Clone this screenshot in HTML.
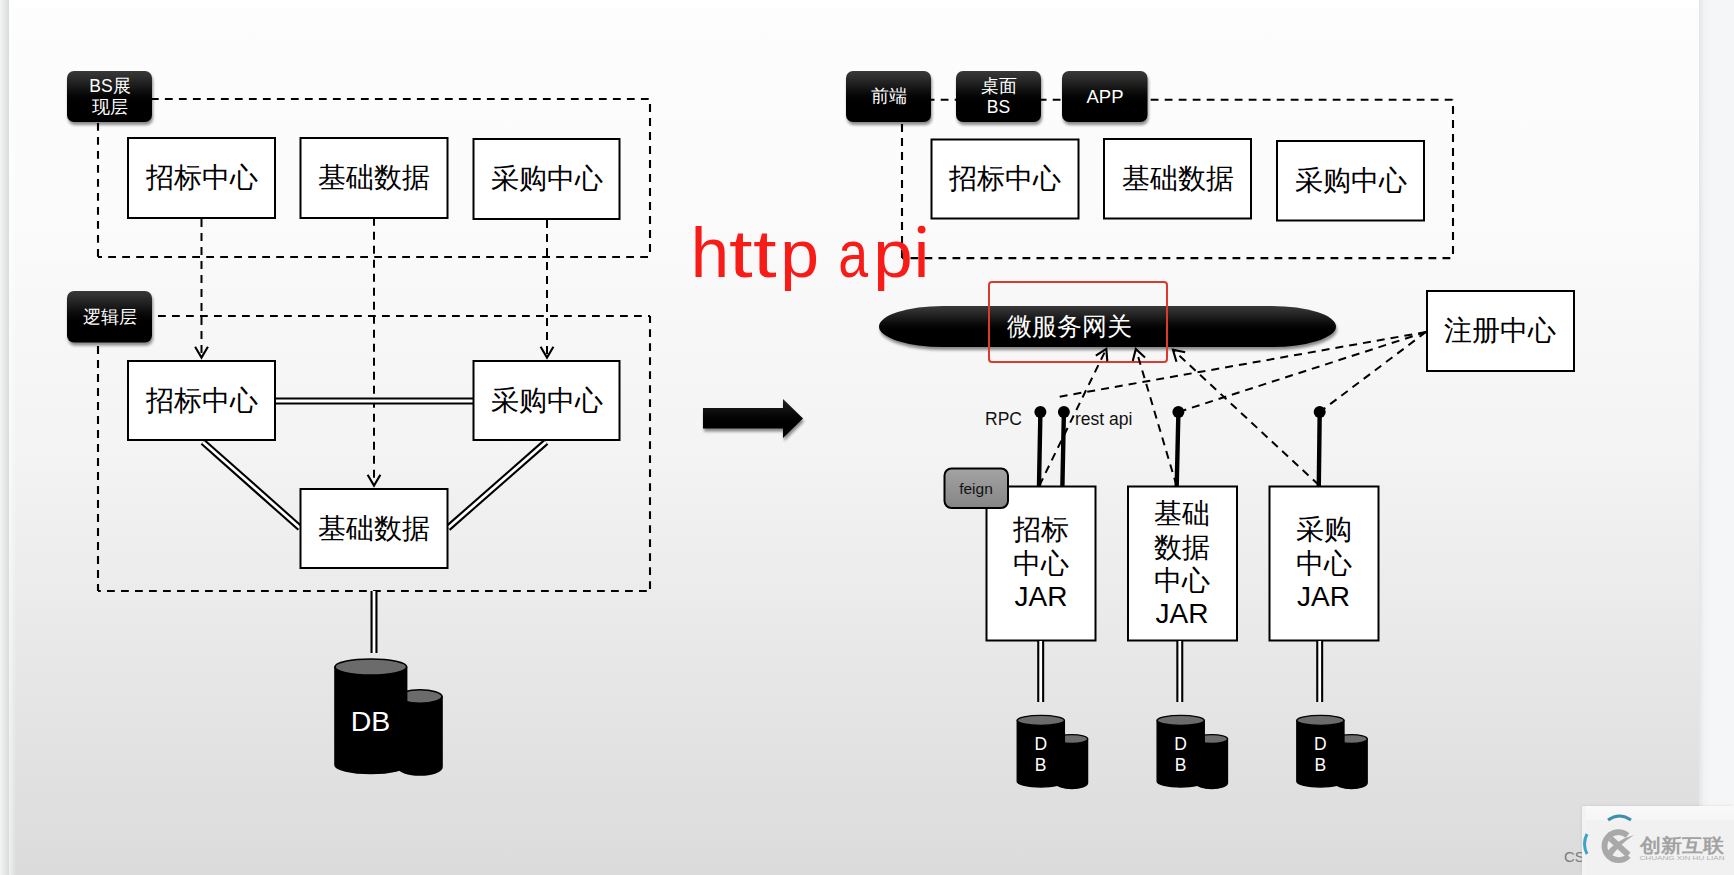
<!DOCTYPE html>
<html><head><meta charset="utf-8">
<style>
html,body{margin:0;padding:0;width:1734px;height:875px;overflow:hidden;background:#f4f5f7;}
#slide{position:absolute;left:9px;top:0;width:1690px;height:875px;
 background:linear-gradient(to bottom,#ffffff 0px,#ffffff 8px,#fdfdfd 8px,#fbfbfb 200px,#f8f8f8 300px,#f4f4f4 440px,#ebebeb 600px,#e5e5e5 700px,#dbdbdb 875px);}
#lstrip{position:absolute;left:0;top:0;width:9px;height:875px;background:linear-gradient(to right,#f3f4f4,#e2e3e3 70%,#dadbdb);}
#rstrip{position:absolute;left:1699px;top:0;width:35px;height:875px;background:linear-gradient(to right,#e4e5e7,#f1f2f4 5px,#f5f6f8 12px);}
svg{position:absolute;left:0;top:0;}
text{font-family:"Liberation Sans",sans-serif;}
</style></head><body>
<div id="lstrip"></div>
<div id="slide"></div>
<div style="position:absolute;left:9px;top:0;width:7px;height:875px;background:linear-gradient(to right,rgba(255,255,255,0.6),rgba(255,255,255,0));"></div>
<div id="rstrip"></div>
<svg width="1734" height="875" viewBox="0 0 1734 875">
<defs>
 <linearGradient id="lab" x1="0" y1="0" x2="0" y2="1">
  <stop offset="0" stop-color="#393939"/><stop offset="0.1" stop-color="#303030"/><stop offset="0.2" stop-color="#252525"/><stop offset="0.3" stop-color="#1a1a1a"/><stop offset="0.4" stop-color="#0e0e0e"/><stop offset="0.5" stop-color="#050505"/><stop offset="0.6" stop-color="#000"/><stop offset="1" stop-color="#000"/>
 </linearGradient>
 <filter id="sh" x="-20%" y="-20%" width="140%" height="160%" color-interpolation-filters="sRGB">
  <feGaussianBlur in="SourceAlpha" stdDeviation="1.6"/><feOffset dx="1" dy="2.5" result="o"/>
  <feComponentTransfer><feFuncA type="linear" slope="0.45"/></feComponentTransfer>
  <feMerge><feMergeNode/><feMergeNode in="SourceGraphic"/></feMerge>
 </filter>
 <marker id="arr" viewBox="0 0 16 18" refX="13" refY="9" markerWidth="16" markerHeight="18" markerUnits="userSpaceOnUse" orient="auto">
  <path d="M1.8,2.6 L12.6,9 L1.8,15.4" fill="none" stroke="#000" stroke-width="2.1"/>
 </marker>
</defs>

<!-- ============ LEFT ============ -->
<g fill="none" stroke="#000" stroke-width="2.1" stroke-dasharray="7.8 6.2">
 <line x1="98" y1="99" x2="650" y2="99" stroke-dashoffset="3.1"/>
 <line x1="650" y1="99" x2="650" y2="257" stroke-dashoffset="8.9"/>
 <line x1="98" y1="257" x2="650" y2="257" stroke-dashoffset="3.8"/>
 <line x1="98" y1="99" x2="98" y2="257" stroke-dashoffset="4"/>
 <line x1="98" y1="316" x2="650" y2="316" stroke-dashoffset="10"/>
 <line x1="650" y1="316" x2="650" y2="591" stroke-dashoffset="0.8"/>
 <line x1="98" y1="591" x2="650" y2="591" stroke-dashoffset="5"/>
 <line x1="98" y1="316" x2="98" y2="591" stroke-dashoffset="11.9"/>
 <line x1="902" y1="99.7" x2="1453" y2="99.7" stroke-dashoffset="3.3"/>
 <line x1="1453" y1="99.7" x2="1453" y2="258.1" stroke-dashoffset="7.6"/>
 <line x1="902" y1="258.1" x2="1453" y2="258.1" stroke-dashoffset="5.5"/>
 <line x1="902" y1="99.7" x2="902" y2="258.1" stroke-dashoffset="3.6"/>
</g>
<!-- dashed arrows -->
<g fill="none" stroke="#000" stroke-width="2" stroke-dasharray="8 6">
 <line x1="201.5" y1="219" x2="201.5" y2="358" marker-end="url(#arr)"/>
 <line x1="374" y1="219" x2="374" y2="486" stroke-dashoffset="1.2" marker-end="url(#arr)"/>
 <line x1="547" y1="220" x2="547" y2="358" marker-end="url(#arr)"/>
</g>
<!-- double lines -->
<g fill="none" stroke="#000" stroke-width="7">
 <line x1="275" y1="401" x2="473" y2="401"/>
 <line x1="203" y1="442" x2="300" y2="528"/>
 <line x1="546" y1="442" x2="448" y2="528"/>
 <line x1="374" y1="591" x2="374" y2="653"/>
</g>
<g fill="none" stroke="#fff" stroke-width="2.8">
 <line x1="275" y1="401" x2="473" y2="401"/>
 <line x1="203" y1="442" x2="300" y2="528"/>
 <line x1="546" y1="442" x2="448" y2="528"/>
 <line x1="374" y1="591" x2="374" y2="653"/>
</g>

<g fill="#fff" stroke="#000" stroke-width="2">
 <rect x="128" y="138" width="147" height="80"/>
 <rect x="300.5" y="138" width="147" height="80"/>
 <rect x="473.5" y="139" width="146" height="80"/>
 <rect x="128" y="361" width="147" height="79"/>
 <rect x="473.5" y="361" width="146" height="79"/>
 <rect x="300.5" y="489" width="147" height="79"/>
</g>
<g font-size="28" fill="#000" text-anchor="middle">
 <text x="201.5" y="187">招标中心</text>
 <text x="374" y="187">基础数据</text>
 <text x="547" y="188">采购中心</text>
 <text x="201.5" y="410">招标中心</text>
 <text x="547" y="410">采购中心</text>
 <text x="374" y="538">基础数据</text>
</g>

<!-- labels -->
<g filter="url(#sh)" fill="url(#lab)">
 <rect x="67" y="71" width="85" height="51" rx="7"/>
 <rect x="67" y="291" width="85" height="51.5" rx="7"/>
 <rect x="846" y="71" width="85" height="51" rx="7"/>
 <rect x="956" y="71" width="85" height="51" rx="7"/>
 <rect x="1062" y="71" width="85.5" height="51" rx="7"/>
</g>
<g font-size="17.5" fill="#fff" text-anchor="middle">
 <text x="110" y="92">BS展</text>
 <text x="110" y="113">现层</text>
 <text x="109.5" y="323">逻辑层</text>
 <text x="888.5" y="102">前端</text>
 <text x="998.5" y="92">桌面</text>
 <text x="998.5" y="113">BS</text>
 <text x="1105" y="103" font-size="18.5">APP</text>
</g>

<!-- DB big -->
<g stroke="#000" stroke-width="1.6">
 <path d="M398,696.5 L442,696.5 L442,767 A22,8 0 0 1 398,767 Z" fill="#000"/>
 <ellipse cx="420" cy="696.5" rx="22" ry="6.8" fill="#6b6b6b"/>
 <path d="M335,667 L406.6,667 L406.6,765 A35.8,8.5 0 0 1 335,765 Z" fill="#000"/>
 <ellipse cx="370.8" cy="667" rx="35.8" ry="8" fill="#6b6b6b"/>
</g>
<text x="370.5" y="730.5" font-size="28.5" fill="#fff" text-anchor="middle">DB</text>

<!-- ============ RIGHT ============ -->
<g fill="#fff" stroke="#000" stroke-width="2">
 <rect x="931.5" y="139.5" width="147" height="79"/>
 <rect x="1104" y="139" width="147" height="79.5"/>
 <rect x="1277" y="141" width="147" height="79.5"/>
 <rect x="1427" y="291" width="147" height="80"/>
 <rect x="986.5" y="486.5" width="109" height="154"/>
 <rect x="1128" y="486.5" width="109" height="154"/>
 <rect x="1269.5" y="486.5" width="109" height="154"/>
</g>
<g font-size="28" fill="#000" text-anchor="middle">
 <text x="1005" y="188">招标中心</text>
 <text x="1177.5" y="188">基础数据</text>
 <text x="1350.5" y="190">采购中心</text>
 <text x="1500" y="340">注册中心</text>
</g>
<g font-size="28" fill="#000" text-anchor="middle">
 <text x="1041" y="539">招标</text>
 <text x="1041" y="573">中心</text>
 <text x="1041" y="606">JAR</text>
 <text x="1182" y="523">基础</text>
 <text x="1182" y="557">数据</text>
 <text x="1182" y="590">中心</text>
 <text x="1182" y="623">JAR</text>
 <text x="1323.5" y="539">采购</text>
 <text x="1323.5" y="573">中心</text>
 <text x="1323.5" y="606">JAR</text>
</g>

<!-- http api -->
<g font-size="67" fill="#f81c18" text-anchor="middle">
 <text x="0" y="0" transform="translate(710,277) scale(1.03,1.06)">h</text>
 <text x="0" y="277" transform="translate(740.7,0) scale(1.27,1)">t</text>
 <text x="0" y="277" transform="translate(764.7,0) scale(1.27,1)">t</text>
 <text x="0" y="277" transform="translate(799.6,0) scale(1.04,1)">p</text>
 <text x="0" y="277" transform="translate(853.2,0) scale(0.8,1)">a</text>
 <text x="0" y="277" transform="translate(892.9,0) scale(1.06,1)">p</text>
 <text x="0" y="277" transform="translate(921.5,0) scale(1.05,1)">ı</text>
 <circle cx="921.6" cy="229.6" r="3.9"/>
</g>

<!-- gateway -->
<defs>
 <linearGradient id="gw" x1="0" y1="0" x2="0" y2="1">
  <stop offset="0" stop-color="#393939"/><stop offset="0.1" stop-color="#303030"/><stop offset="0.2" stop-color="#252525"/><stop offset="0.3" stop-color="#1a1a1a"/><stop offset="0.4" stop-color="#0e0e0e"/><stop offset="0.5" stop-color="#050505"/><stop offset="0.6" stop-color="#000"/><stop offset="1" stop-color="#000"/>
 </linearGradient>
</defs>
<rect x="879" y="306" width="457" height="41" rx="64" ry="20.5" fill="url(#gw)" filter="url(#sh)"/>
<text x="1069" y="335" font-size="25" fill="#fff" text-anchor="middle">微服务网关</text>
<rect x="989" y="282" width="178" height="80" rx="3" fill="none" stroke="#dc3a2e" stroke-width="2"/>

<!-- pins -->
<g stroke="#000" stroke-width="4.4" fill="none">
 <line x1="1040.4" y1="412" x2="1039" y2="486"/>
 <line x1="1063.9" y1="412" x2="1062.4" y2="486"/>
 <line x1="1178.4" y1="412" x2="1176.7" y2="486"/>
 <line x1="1319.7" y1="412" x2="1318.8" y2="486"/>
</g>
<g fill="#000">
 <circle cx="1040.4" cy="412" r="6"/>
 <circle cx="1063.9" cy="412" r="6"/>
 <circle cx="1178.4" cy="412" r="6"/>
 <circle cx="1319.7" cy="412" r="6"/>
</g>
<text x="985" y="425" font-size="17.5" fill="#111">RPC</text>
<text x="1075" y="425" font-size="17.5" fill="#111">rest api</text>

<!-- dashed -->
<g fill="none" stroke="#000" stroke-width="2" stroke-dasharray="8 6">
 <line x1="1426" y1="332" x2="1055" y2="397.5"/>
 <line x1="1426" y1="332" x2="1178.4" y2="412"/>
 <line x1="1426" y1="332" x2="1319.7" y2="412"/>
 <line x1="1039.4" y1="485.5" x2="1106.5" y2="348.5" marker-end="url(#arr)"/>
 <line x1="1176.5" y1="485.5" x2="1135.7" y2="348.5" marker-end="url(#arr)"/>
 <line x1="1318.8" y1="485" x2="1172.6" y2="349.4" marker-end="url(#arr)"/>
</g>

<!-- feign -->
<linearGradient id="fg" x1="0" y1="0" x2="0" y2="1"><stop offset="0" stop-color="#a3a3a3"/><stop offset="1" stop-color="#858585"/></linearGradient>
<rect x="944.5" y="468.5" width="63.5" height="39.5" rx="7" fill="url(#fg)" stroke="#000" stroke-width="2"/>
<text x="976" y="494" font-size="15.5" fill="#111" text-anchor="middle">feign</text>

<!-- JAR -> DB double lines -->
<g fill="none" stroke="#000" stroke-width="7">
 <line x1="1040.7" y1="641" x2="1040.7" y2="702"/>
 <line x1="1179.8" y1="641" x2="1179.8" y2="702"/>
 <line x1="1319.7" y1="641" x2="1319.7" y2="702"/>
</g>
<g fill="none" stroke="#fff" stroke-width="2.8">
 <line x1="1040.7" y1="641" x2="1040.7" y2="702"/>
 <line x1="1179.8" y1="641" x2="1179.8" y2="702"/>
 <line x1="1319.7" y1="641" x2="1319.7" y2="702"/>
</g>

<!-- small DBs -->
<g id="sdb" stroke="#000" stroke-width="1.3">
 <path d="M1056,739 L1087.6,739 L1087.6,783 A15.8,5.5 0 0 1 1056,783 Z" fill="#000"/>
 <ellipse cx="1071.8" cy="739" rx="15.8" ry="4.3" fill="#6b6b6b"/>
 <path d="M1017.2,720.3 L1064.4,720.3 L1064.4,781.5 A23.6,5.5 0 0 1 1017.2,781.5 Z" fill="#000"/>
 <ellipse cx="1040.8" cy="720.3" rx="23.6" ry="5" fill="#6b6b6b"/>
</g>
<g transform="translate(139.9,0)"><use href="#sdb"/></g>
<g transform="translate(279.6,0)"><use href="#sdb"/></g>
<g font-size="17.5" fill="#fff" text-anchor="middle">
 <text x="1040.7" y="750">D</text><text x="1040.7" y="771">B</text>
 <text x="1180.6" y="750">D</text><text x="1180.6" y="771">B</text>
 <text x="1320.3" y="750">D</text><text x="1320.3" y="771">B</text>
</g>

<!-- arrow -->
<path d="M703,408 L783,408 L783,399 L803,418.5 L783,438 L783,428.5 L703,428.5 Z" fill="url(#arrg)" filter="url(#sh)"/>
<defs><linearGradient id="arrg" x1="0" y1="0" x2="0" y2="1"><stop offset="0" stop-color="#222"/><stop offset="0.2" stop-color="#151515"/><stop offset="0.45" stop-color="#050505"/><stop offset="0.6" stop-color="#000"/></linearGradient></defs>

</svg>

<!-- watermark -->
<div style="position:absolute;left:1582px;top:806px;width:152px;height:69px;background:linear-gradient(to bottom,#f9f9f9 0px,#f6f6f6 13px,#f1f1f1 15px,#f1f1f1 100%);box-shadow:-1px -1px 2px rgba(0,0,0,0.06);"></div>
<svg width="1734" height="875" viewBox="0 0 1734 875" style="position:absolute;left:0;top:0;">
 <text x="1564" y="862" font-family="Liberation Sans" font-size="15" fill="#7a7a7a">CS</text>
 <rect x="1582" y="806" width="4" height="69" fill="#f3f3f3"/>
 <path d="M1608,820 Q1619.5,812 1631,820" fill="none" stroke="#3d8fae" stroke-width="3"/>
 <path d="M1587,834 Q1582,844 1587,854" fill="none" stroke="#3ea3c9" stroke-width="3"/>
 <path d="M1627.5,835.5 A14,14 0 1 0 1628.5,856" fill="none" stroke="#a9a9a9" stroke-width="5.8"/>
 <path d="M1610.5,838.5 L1628.5,855" stroke="#a9a9a9" stroke-width="6" fill="none"/>
 <path d="M1605.5,853 L1611,857 Q1620,844 1634,835 Q1618,839 1605.5,853 Z" fill="#a9a9a9"/>
 <text x="1640" y="852" font-size="19" font-weight="bold" fill="#a2a2a2" textLength="84" lengthAdjust="spacingAndGlyphs">创新互联</text>
 <text x="1682" y="860" font-size="5.6" fill="#b0b0b0" text-anchor="middle" textLength="85" lengthAdjust="spacingAndGlyphs">CHUANG XIN HU LIAN</text>
</svg>
</body></html>
